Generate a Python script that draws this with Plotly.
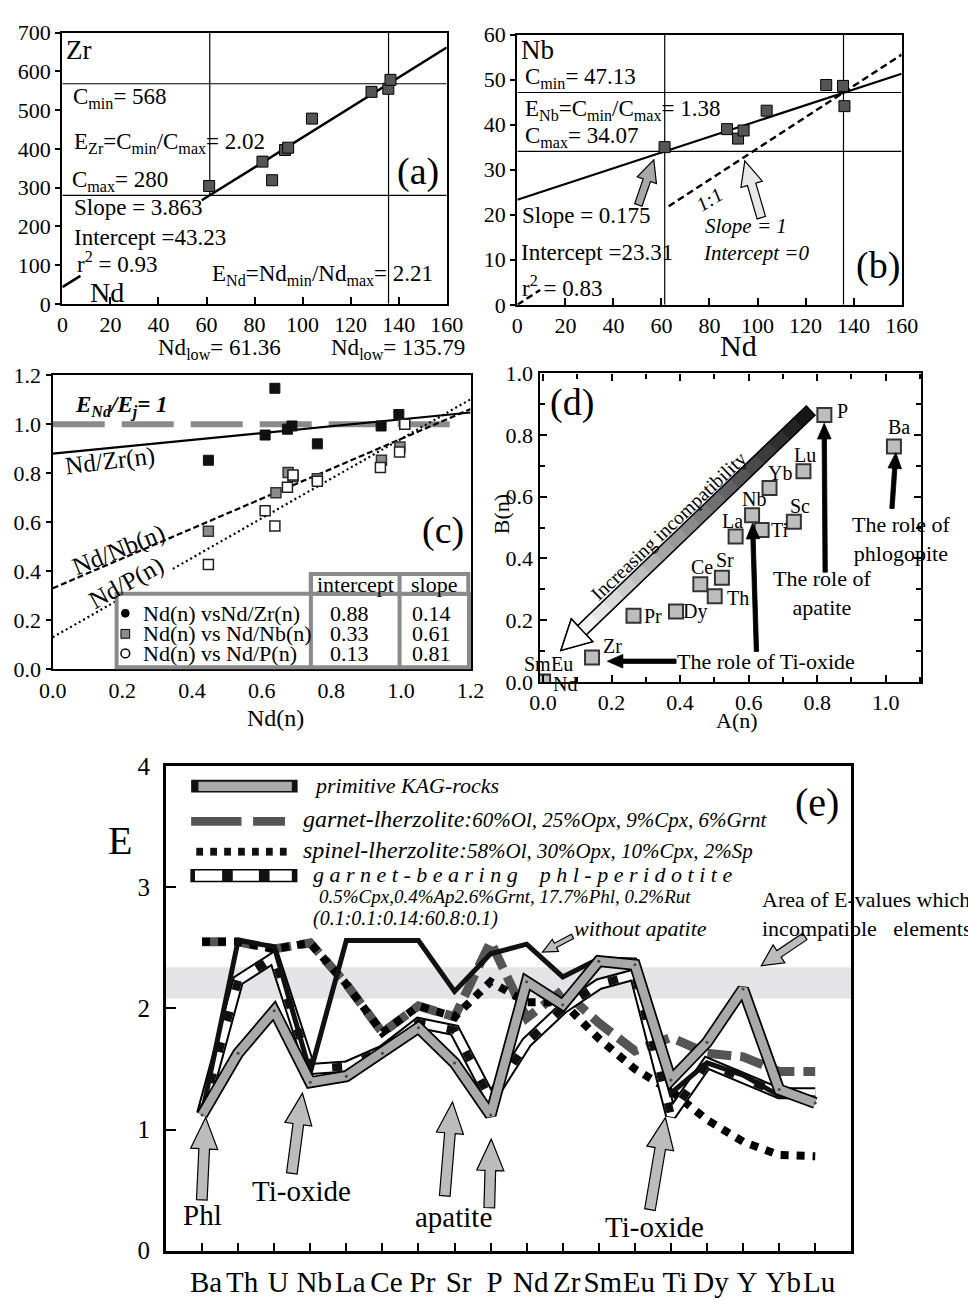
import math
import plotly.graph_objects as go

W, H = 968, 1300
SERIF = "Liberation Serif"

# ---------------- (a) Zr vs Nd ----------------
a_nd = [61.1, 83.3, 87.3, 92.7, 94.0, 103.9, 128.7, 135.7, 136.6]
a_zr = [304, 367, 319, 397, 403, 478, 547, 555, 578]
zr_slope, zr_intercept = 3.863, 43.23
zr_cmin, zr_cmax = 568, 280
nd_low = [61.36, 135.79]
zr_fit_spans = [(0, 7.5), (58, 160)]

# ---------------- (b) Nb vs Nd ----------------
b_nd = [61.3, 87.3, 91.9, 94.2, 103.8, 128.6, 135.6, 136.2]
b_nb = [35.0, 39.0, 36.9, 38.7, 43.1, 48.8, 48.6, 44.1]
nb_slope, nb_intercept = 0.175, 23.31
nb_cmin, nb_cmax = 47.13, 34.07
one_to_one_spans = [(0, 9.5), (63, 160)]

# ---------------- (c) normalised ratios ----------------
c_zr_x = [0.447, 0.610, 0.638, 0.674, 0.687, 0.760, 0.943, 0.994]
c_zr_y = [0.853, 0.956, 1.147, 0.980, 0.993, 0.920, 0.993, 1.040]
c_nb_x = [0.447, 0.641, 0.676, 0.690, 0.760, 0.944, 0.997]
c_nb_y = [0.563, 0.720, 0.803, 0.787, 0.777, 0.853, 0.907]
c_p_x = [0.447, 0.610, 0.638, 0.674, 0.690, 0.760, 0.941, 0.996, 1.011]
c_p_y = [0.427, 0.647, 0.584, 0.743, 0.793, 0.767, 0.823, 0.887, 1.000]
c_fit_names = ["Nd(n) vsNd/Zr(n)", "Nd(n) vs Nd/Nb(n)", "Nd(n) vs Nd/P(n)"]
c_intercepts = [0.88, 0.33, 0.13]
c_slopes = [0.14, 0.61, 0.81]
c_fit_spans = [[(0, 1.2)], [(0, 1.2)], [(0, 0.22), (0.345, 1.2)]]
c_ratio_one = 1.0

# ---------------- (d) A(n) vs B(n) ----------------
d_labels = ["P", "Ba", "Lu", "Yb", "Nb", "Ti", "Sc", "La", "Sr", "Ce", "Th",
            "Dy", "Pr", "Zr", "Sm", "Eu", "Nd"]
d_a = [0.821, 1.024, 0.760, 0.661, 0.610, 0.638, 0.732, 0.562, 0.522, 0.459,
       0.501, 0.388, 0.264, 0.143, 0.0, 0.0, 0.0]
d_b = [0.865, 0.763, 0.683, 0.628, 0.540, 0.492, 0.519, 0.471, 0.337, 0.316,
       0.277, 0.228, 0.214, 0.079, 0.0, 0.0, 0.0]

# ---------------- (e) E-values ----------------
e_elements = ["Ba", "Th", "U", "Nb", "La", "Ce", "Pr", "Sr", "P", "Nd", "Zr",
              "Sm", "Eu", "Ti", "Dy", "Y", "Yb", "Lu"]
e_kag = [1.12, 1.63, 1.98, 1.39, 1.44, 1.63, 1.84, 1.55, 1.12, 2.22, 2.03,
         2.39, 2.36, 1.41, 1.72, 2.16, 1.33, 1.22]
e_grt_lherz = [2.55, 2.55, 2.49, 2.54, 2.20, 1.80, 2.02, 1.93, 2.55, 1.92, 2.15,
               1.88, 1.65, 1.76, 1.63, 1.60, 1.48, 1.48]
e_sp_lherz = [2.55, 2.55, 2.49, 2.54, 2.20, 1.80, 2.02, 1.93, 2.22, 2.05, 2.05,
              1.75, 1.50, 1.32, 1.08, 0.90, 0.79, 0.78]
e_phl_perid = [1.13, 2.23, 2.42, 1.50, 1.52, 1.65, 1.88, 1.82, 1.25, 1.72, 2.00,
               2.20, 2.28, 1.12, 1.55, 1.42, 1.30, 1.30]
e_phl_no_ap = [1.13, 2.56, 2.51, 1.47, 2.56, 2.56, 2.56, 2.14, 2.45, 2.53, 2.26,
               2.41, 2.40, 1.30, 1.55, 1.45, 1.28, 1.26]
e_band = [2.08, 2.34]


# ---------------- helpers ----------------
def xdom(x0, x1):
    return [x0 / W, x1 / W]


def ydom(top, bottom):
    return [1 - bottom / H, 1 - top / H]


def P(x, y):
    return f"{x / W:.5f},{1 - y / H:.5f}"


fig = go.Figure()


def line(xs, ys, ax, color="black", width=2, dash="solid"):
    fig.add_trace(go.Scatter(x=xs, y=ys, mode="lines", xaxis="x" + ax, yaxis="y" + ax,
                             line=dict(color=color, width=width, dash=dash),
                             showlegend=False, hoverinfo="skip"))


def pts(xs, ys, ax, fill, edge="black", size=11, ew=1):
    fig.add_trace(go.Scatter(x=xs, y=ys, mode="markers", xaxis="x" + ax, yaxis="y" + ax,
                             marker=dict(symbol="square", size=size, color=fill,
                                         line=dict(color=edge, width=ew)),
                             showlegend=False, hoverinfo="skip"))


shapes = []
annots = []


def text(x, y, s, size=23, anchor="left", angle=0, italic=False, bold=False):
    if italic:
        s = "<i>" + s + "</i>"
    if bold:
        s = "<b>" + s + "</b>"
    annots.append(dict(x=x / W, y=1 - y / H, xref="paper", yref="paper", text=s,
                       showarrow=False, xanchor=anchor, yanchor="middle",
                       textangle=angle, font=dict(family=SERIF, size=size, color="black")))


def arrow_pts(tail, tip, shaft, head_w, head_len):
    (x0, y0), (x1, y1) = tail, tip
    dx, dy = x1 - x0, y1 - y0
    L = math.hypot(dx, dy)
    ux, uy = dx / L, dy / L
    nx, ny = -uy, ux
    bx, by = x1 - ux * head_len, y1 - uy * head_len
    s, h = shaft / 2, head_w / 2
    return [(x0 + nx * s, y0 + ny * s), (bx + nx * s, by + ny * s), (bx + nx * h, by + ny * h),
            (x1, y1), (bx - nx * h, by - ny * h), (bx - nx * s, by - ny * s),
            (x0 - nx * s, y0 - ny * s)]


def poly(points, fill, edge="black", ew=1.2):
    path = "M " + " L ".join(P(x, y) for x, y in points) + " Z"
    shapes.append(dict(type="path", path=path, xref="paper", yref="paper",
                       fillcolor=fill, line=dict(color=edge, width=ew), layer="above"))


def arrow(tail, tip, shaft, head_w, head_len, fill, edge="black", ew=1.2):
    poly(arrow_pts(tail, tip, shaft, head_w, head_len), fill, edge, ew)


def gradient_arrow(tail, tip, shaft, head_w, head_len, n=18):
    (x0, y0), (x1, y1) = tail, tip
    dx, dy = x1 - x0, y1 - y0
    L = math.hypot(dx, dy)
    ux, uy = dx / L, dy / L
    nx, ny = -uy, ux
    s = shaft / 2
    body = L - head_len
    for i in range(n):
        t0 = body * i / n
        t1 = min(body, body * (i + 1) / n + 1.0)
        g = int(15 + 235 * (i + 0.5) / n)
        quad = [(x0 + ux * t0 + nx * s, y0 + uy * t0 + ny * s),
                (x0 + ux * t1 + nx * s, y0 + uy * t1 + ny * s),
                (x0 + ux * t1 - nx * s, y0 + uy * t1 - ny * s),
                (x0 + ux * t0 - nx * s, y0 + uy * t0 - ny * s)]
        poly(quad, f"rgb({g},{g},{g})", edge=f"rgb({g},{g},{g})", ew=0.5)
    full = arrow_pts(tail, tip, shaft, head_w, head_len)
    poly(full, "rgba(0,0,0,0)", "black", 1.5)
    poly([full[2], full[3], full[4]], "white", "black", 1.5)


def rect(x0, y0, x1, y1, fill, edge=None, ew=0):
    shapes.append(dict(type="rect", xref="paper", yref="paper", x0=x0 / W, x1=x1 / W,
                       y0=1 - y1 / H, y1=1 - y0 / H, fillcolor=fill,
                       line=dict(color=edge or fill, width=ew), layer="above"))


# ================= (a) =================
for v in (zr_cmin, zr_cmax):
    line([0, 160], [v, v], "", width=1.2)
line([nd_low[1], nd_low[1]], [0, 700], "", width=1.2)
line([nd_low[0], nd_low[0]], [zr_cmax, 700], "", width=1.2)
for x0, x1 in zr_fit_spans:
    line([x0, x1], [zr_intercept + zr_slope * x0, zr_intercept + zr_slope * x1], "", width=2.5)
pts(a_nd, a_zr, "", "#555555")

# ================= (b) =================
for v in (nb_cmin, nb_cmax):
    line([0, 160], [v, v], "2", width=1.2)
for v in nd_low:
    line([v, v], [0, 60], "2", width=1.2)
line([0, 160], [nb_intercept, nb_intercept + nb_slope * 160], "2", width=2.2)
k11 = nb_cmin / nd_low[1]
for x0, x1 in one_to_one_spans:
    line([x0, x1], [k11 * x0, k11 * x1], "2", width=2.5, dash="7px,4px")
pts(b_nd, b_nb, "2", "#555555")

# ================= (c) =================
line([0, 1.16], [c_ratio_one, c_ratio_one], "3", color="#8a8a8a", width=6, dash="52px,17px")
fit_styles = [("solid", 2.2), ("6px,3px", 2.2), ("2px,3px", 2.2)]
for spans, b0, m, (dsh, w) in zip(c_fit_spans, c_intercepts, c_slopes, fit_styles):
    for x0, x1 in spans:
        line([x0, x1], [b0 + m * x0, b0 + m * x1], "3", width=w, dash=dsh)
pts(c_zr_x, c_zr_y, "3", "#111111", "#111111", size=10)
pts(c_nb_x, c_nb_y, "3", "#8c8c8c", "#333333", size=10, ew=1.5)
pts(c_p_x, c_p_y, "3", "white", "#222222", size=10, ew=1.5)

# ================= (d) =================
fig.add_trace(go.Scatter(x=d_a, y=d_b, mode="markers", xaxis="x4", yaxis="y4",
                         marker=dict(symbol="square", size=14, color="#bdbdbd",
                                     line=dict(color="#333333", width=2)),
                         showlegend=False, hoverinfo="skip"))
d_offsets = {"P": (18, 4), "Ba": (5, 19), "Lu": (2, 16), "Yb": (10, 15), "Nb": (2, 16),
             "Ti": (18, 0), "Sc": (6, 16), "La": (-3, 16), "Sr": (3, 18), "Ce": (2, 17),
             "Th": (23, -2), "Dy": (19, 0), "Pr": (19, 0), "Zr": (20, 11),
             "Sm": (-6, 18), "Eu": (19, 18), "Nd": (22, -2)}
for lab, a, b in zip(d_labels, d_a, d_b):
    dx, dy = d_offsets[lab]
    annots.append(dict(x=a, y=b, xref="x4", yref="y4", text=lab, showarrow=False,
                       xshift=dx, yshift=dy, font=dict(family=SERIF, size=20, color="black")))

# ================= (e) =================
shapes.append(dict(type="rect", xref="x5", yref="y5", x0=-1, x1=18, y0=e_band[0],
                   y1=e_band[1], fillcolor="#e4e4e6", line=dict(width=0), layer="below"))
line(e_elements, e_grt_lherz, "5", color="#555555", width=9, dash="24px,9px")
line(e_elements, e_sp_lherz, "5", color="black", width=8, dash="8px,8px")
line(e_elements, e_phl_perid, "5", color="black", width=12)
line(e_elements, e_phl_perid, "5", color="white", width=8)
line(e_elements, e_phl_perid, "5", color="#111111", width=8, dash="10px,22px")
line(e_elements, e_phl_no_ap, "5", color="#111111", width=5)
line(e_elements, e_kag, "5", color="black", width=12)
line(e_elements, e_kag, "5", color="#a9a9a9", width=8.5)
fig.add_trace(go.Scatter(x=e_elements, y=e_kag, mode="markers", xaxis="x5", yaxis="y5",
                         marker=dict(size=3, color="#444444"), showlegend=False,
                         hoverinfo="skip"))

# ---------------- annotations: (a) ----------------
text(67, 38, "Zr", 27, anchor="center")
text(59, 87, "C<sub>min</sub>= 568")
text(60, 133, "E<sub>Zr</sub>=C<sub>min</sub>/C<sub>max</sub>= 2.02")
text(58, 172, "C<sub>max</sub>= 280")
text(60, 199, "Slope = 3.863")
text(60, 229, "Intercept =43.23")
text(63, 255, "r<sup>2</sup> = 0.93")
text(76, 285, "Nd", 28)
text(202, 268, "E<sub>Nd</sub>=Nd<sub>min</sub>/Nd<sub>max</sub>= 2.21")
text(417, 162, "(a)", 38, anchor="center")
text(147, 343, "Nd<sub>low</sub>= 61.36")
text(325, 343, "Nd<sub>low</sub>= 135.79")

# ---------------- annotations: (b) ----------------
text(541, 38, "Nb", 27, anchor="center")
text(526, 66, "C<sub>min</sub>= 47.13")
text(526, 99, "E<sub>Nb</sub>=C<sub>min</sub>/C<sub>max</sub>= 1.38")
text(526, 127, "C<sub>max</sub>= 34.07")
text(523, 207, "Slope = 0.175")
text(522, 245, "Intercept =23.31")
text(523, 279, "r<sup>2</sup> = 0.83")
text(719, 190, "1:1", 20, anchor="center", angle=-32, italic=True)
text(712, 218, "Slope = 1", 21, italic=True)
text(710, 245, "Intercept =0", 21, italic=True)
text(893, 258, "(b)", 38, anchor="center")
text(748, 340, "Nd", 30, anchor="center")
arrow((645, 196), (661, 150), 8, 21, 22, "#a9a9a9")
arrow((772, 209), (755, 151), 9, 23, 25, "#e8e8e8")

# ---------------- annotations: (c) ----------------
text(61, 402, "E<sub>Nd</sub>/E<sub>j</sub>= 1", 23, italic=True, bold=True)
text(99, 458, "Nd/Zr(n)", 25, anchor="center", angle=-7)
text(108, 548, "Nd/Nb(n)", 25, anchor="center", angle=-22)
text(116, 582, "Nd/P(n)", 25, anchor="center", angle=-29)
text(443, 528, "(c)", 38, anchor="center")
text(270, 720, "Nd(n)", 24, anchor="center")
# fit table
rect(106, 593, 470, 668, "white", "#8a8a8a", 4)
rect(306.7, 573, 469.3, 593, "white", "#8a8a8a", 4)
for xv in (306.7, 398.3):
    shapes.append(dict(type="line", xref="paper", yref="paper", x0=xv / W, x1=xv / W,
                       y0=1 - 668 / H, y1=1 - 573 / H, line=dict(color="#8a8a8a", width=4),
                       layer="above"))
text(352.5, 584, "intercept", 22, anchor="center")
text(434, 584, "slope", 22, anchor="center")
row_y = [613, 634, 654]
shapes.append(dict(type="circle", xref="paper", yref="paper", x0=111 / W, x1=119 / W,
                   y0=1 - 617 / H, y1=1 - 609 / H, fillcolor="black",
                   line=dict(color="black", width=1), layer="above"))
rect(110.5, 629.5, 119.5, 638.5, "#8c8c8c", "black", 1)
shapes.append(dict(type="circle", xref="paper", yref="paper", x0=110.5 / W, x1=119.5 / W,
                   y0=1 - 658.5 / H, y1=1 - 649.5 / H, fillcolor="white",
                   line=dict(color="black", width=1.5), layer="above"))
for yy, nm, b0, m in zip(row_y, c_fit_names, c_intercepts, c_slopes):
    text(131, yy, nm, 22)
    text(347, yy, f"{b0:.2f}", 22, anchor="center")
    text(431, yy, f"{m:.2f}", 22, anchor="center")

# ---------------- annotations: (d) ----------------
text(576, 398, "(d)", 38, anchor="center")
text(747, 722, "A(n)", 22, anchor="center")
text(503, 512, "B(n)", 22, anchor="center", angle=-90)
gradient_arrow((823, 406), (565, 651), 13, 32, 30)
text(676, 524, "Increasing incompatibility", 19.5, anchor="center", angle=-43.5)
text(777, 662, "The role of Ti-oxide", 22, anchor="center")
text(835, 592, "The role of<br>apatite", 22, anchor="center")
text(916, 537, "The role of<br>phlogopite", 22, anchor="center")
arrow((684, 662), (613, 662), 4.5, 14, 16, "black", ew=0.8)
arrow((767, 652), (763, 521), 4.5, 14, 16, "black", ew=0.8)
arrow((838, 571), (837, 419), 4.5, 14, 16, "black", ew=0.8)
arrow((907, 506), (911, 449), 4.5, 14, 16, "black", ew=0.8)

# ---------------- annotations: (e) ----------------
text(110, 845, "E", 40, anchor="center")
text(830, 806, "(e)", 40, anchor="center")
# legend samples
rect(183, 783, 293, 796, "#111111")
rect(190.5, 785, 287, 794.5, "#a9a9a9")
rect(183, 821, 235, 830, "#555555")
rect(247, 821, 280, 830, "#555555")
for i in range(7):
    rect(188.3 + i * 14.4, 852.5, 195.3 + i * 14.4, 860.5, "#111111")
rect(183, 875, 292, 887, "white", "black", 1.5)
for x0, x1 in [(183, 187), (215, 226), (253, 264), (287, 292)]:
    rect(x0, 875, x1, 887, "#111111")
text(308, 789, "primitive KAG-rocks", 22, italic=True)
text(297, 823, "garnet-lherzolite:<span style='font-size:21px'>60%Ol, 25%Opx, 9%Cpx, 6%Grnt</span>",
     24, italic=True)
text(297, 855, "spinel-lherzolite:<span style='font-size:21px'>58%Ol, 30%Opx, 10%Cpx, 2%Sp</span>",
     24, italic=True)
text(307, 880, "g a r n e t - b e a r i n g \u00a0\u00a0 p h l - p e r i d o t i t e", 22,
     italic=True)
text(313, 902, "0.5%Cpx,0.4%Ap2.6%Grnt, 17.7%Phl, 0.2%Rut", 19, italic=True)
text(307, 925, "(0.1:0.1:0.14:60.8:0.1)", 20, italic=True)
text(576, 935, "without apatite", 22, italic=True)
arrow((577, 943), (546, 959), 5, 14, 15, "#bcbcbc")
text(771, 905, "Area of E-values which", 22)
text(771, 935, "incompatible\u00a0\u00a0 elements", 22)
arrow((817, 943), (772, 973), 8, 22, 22, "#bcbcbc")
# mineral arrows
for tail, tip in [((194, 1212), (198, 1128)), ((287, 1185), (298, 1103)),
                  ((445, 1208), (453, 1112)), ((491, 1220), (493, 1150)),
                  ((657, 1222), (673, 1128))]:
    arrow(tail, tip, 11, 28, 32, "#bcbcbc")
text(195, 1228, "Phl", 29, anchor="center")
text(297, 1203, "Ti-oxide", 29, anchor="center")
text(454, 1230, "apatite", 29, anchor="center")
text(662, 1240, "Ti-oxide", 29, anchor="center")

# ---------------- axes ----------------
TF = dict(family=SERIF, size=22, color="black")


def ax(domain, rng, anchor, **kw):
    d = dict(domain=domain, range=rng, anchor=anchor, showline=True, linecolor="black",
             linewidth=2.4, mirror=True, showgrid=False, zeroline=False, tickfont=TF,
             ticklen=6, tickwidth=1.5, tickcolor="black")
    d.update(kw)
    return d


fig.update_layout(
    width=W, height=H, margin=dict(l=0, r=0, t=0, b=0, pad=0),
    paper_bgcolor="white", plot_bgcolor="white", showlegend=False,
    xaxis=ax(xdom(50, 447), [0, 160], "y", dtick=20, ticks="inside", ticklen=7),
    yaxis=ax(ydom(20, 297), [0, 700], "x", dtick=100, ticks="outside", ticklen=5),
    xaxis2=ax(xdom(520, 917), [0, 160], "y2", dtick=20, ticks="inside", ticklen=7),
    yaxis2=ax(ydom(22, 298), [0, 60], "x2", dtick=10, ticks="outside", ticklen=5),
    xaxis3=ax(xdom(40, 471.7), [0, 1.2], "y3", dtick=0.2, tickformat=".1f",
              ticks="inside", ticklen=7),
    yaxis3=ax(ydom(370, 670), [0, 1.2], "x3", dtick=0.2, tickformat=".1f",
              ticks="outside", ticklen=5),
    xaxis4=ax(xdom(543, 937), [-0.01, 1.103], "y4", tick0=0, dtick=0.2, tickformat=".1f",
              ticks="inside", mirror="ticks", ticklen=7,
              minor=dict(dtick=0.1, tick0=0, ticks="inside", ticklen=5, tickcolor="black")),
    yaxis4=ax(ydom(368, 683), [0, 1.0], "x4", dtick=0.2, tickformat=".1f",
              ticks="inside", mirror="ticks", ticklen=7,
              minor=dict(dtick=0.1, ticks="inside", ticklen=5, tickcolor="black")),
    xaxis5=ax(xdom(157, 865), [-1, 18], "y5", type="category", categoryorder="array",
              categoryarray=e_elements, tickmode="array", tickvals=e_elements,
              ticktext=e_elements, ticks="inside", ticklen=8, tickangle=0,
              ticklabelshift=4, ticklabelstandoff=3,
              linewidth=3, tickfont=dict(family=SERIF, size=29, color="black")),
    yaxis5=ax(ydom(769, 1264), [0, 4], "x5", dtick=1, ticks="inside", ticklen=10,
              linewidth=3, ticklabelstandoff=8,
              tickfont=dict(family=SERIF, size=25, color="black")),
    shapes=shapes,
    annotations=annots,
)

fig.write_html("out.html", config={"displayModeBar": False},
               post_script="document.body.style.margin='0';"
                           "document.body.style.overflow='hidden';")
